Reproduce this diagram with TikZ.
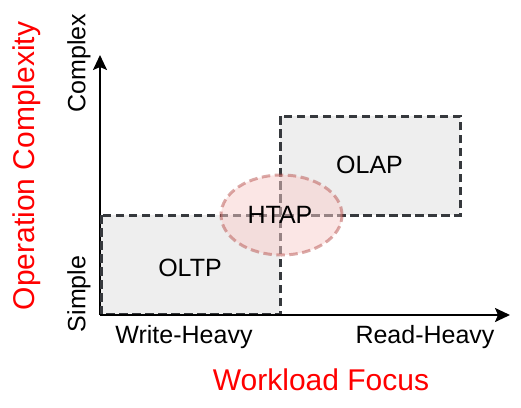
\documentclass[tikz,border=0pt]{standalone}
\usepackage{fontspec}
\setmainfont{Liberation Sans}
\usetikzlibrary{arrows.meta,shapes.geometric}
\definecolor{boxfill}{HTML}{EEEEEE}
\definecolor{boxline}{HTML}{36393D}
\definecolor{htapfill}{HTML}{F8CECC}
\definecolor{htapline}{HTML}{B85450}
\definecolor{titlered}{HTML}{FF0000}
\begin{document}
\begin{tikzpicture}[x=1pt,y=-1pt,
  lbl/.style={inner sep=0pt,font=\fontsize{25}{30}\selectfont},
  ttl/.style={inner sep=0pt,text=titlered,font=\fontsize{30}{36}\selectfont},
  region/.style={fill=boxfill,draw=boxline,line width=3pt,dash pattern=on 8.5pt off 4.5pt},
  htapstyle/.style={ellipse,inner sep=0pt,fill=htapfill,draw=htapline,fill opacity=0.5,draw opacity=0.5,
    line width=3pt,dash pattern=on 8.5pt off 4.5pt,minimum width=121pt,minimum height=80pt},
  axis/.style={line width=2pt,-{Stealth[length=15pt,width=14pt,inset=3pt]}}]
\useasboundingbox (0,0) rectangle (521,407);
\coordinate (o) at (100,315);
\coordinate (ytip) at (100,55);
\coordinate (xtip) at (510,315);
\draw[axis] (o) -- (ytip);
\draw[region] (101,215) rectangle (280,314);
\draw[region] (280,116) rectangle (460,215);
\draw[axis] (o) -- (xtip);
\node[htapstyle] (htapshape) at (281.5,215) {};
\node[lbl,anchor=base] (oltp) at (190,276) {OLTP};
\node[lbl,anchor=base] (olap) at (369.5,173) {OLAP};
\node[lbl,anchor=base] (htap) at (280,223) {HTAP};
\node[lbl,rotate=90] (complex) at (79,63) {Complex};
\node[lbl,rotate=90] (simple) at (79,294) {Simple};
\node[ttl,rotate=90] (ycap) at (27,166) {Operation Complexity};
\node[lbl,anchor=base] (write) at (184,343) {Write-Heavy};
\node[lbl,anchor=base] (read) at (425,343) {Read-Heavy};
\node[ttl,anchor=base] (xcap) at (321,390) {Workload Focus};
\end{tikzpicture}
\end{document}
